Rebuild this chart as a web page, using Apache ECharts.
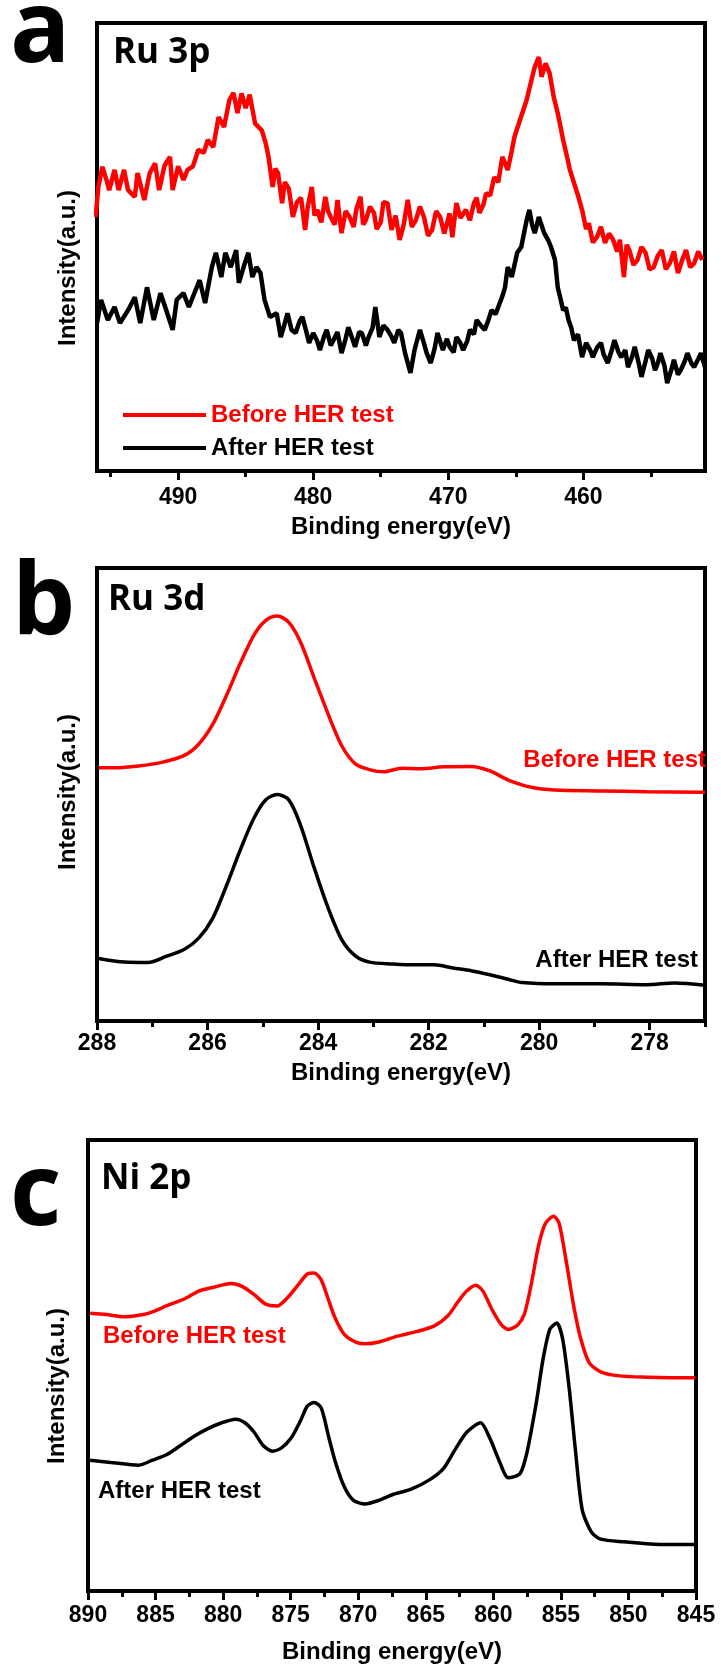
<!DOCTYPE html>
<html>
<head>
<meta charset="utf-8">
<script src="https://cdn.jsdelivr.net/npm/echarts@6/dist/echarts.min.js"></script>
<style>
  html, body { margin: 0; padding: 0; background: #fff; }
  #chart { width: 721px; height: 1668px; }
</style>
</head>
<body>
<div id="chart"></div>
<script>
// ---- data: [binding energy (eV), intensity (a.u., 0-100 of frame height)] ----
const ru3pBefore = [
  [496.1,56.7],[495.9,63.4],[495.6,67.9],[495.3,65],[495.1,62.7],[494.7,67.2],[494.4,62.7],[494,67.2],
  [493.7,62.7],[493.2,61.2],[493,66.5],[492.5,60.5],[492.1,66.5],[491.7,68.7],[491.4,62.7],[491,68.2],
  [490.6,70.1],[490.4,62.7],[490,68],[489.6,65],[489.3,67.2],[488.9,68],[488.5,71.7],[488.1,71],
  [487.8,73.9],[487.4,72.3],[487,79],[486.6,76.8],[486.2,82.8],[485.9,84.4],[485.6,79.9],[485.3,84.3],
  [485,81],[484.7,84],[484.3,77.6],[483.8,76],[483.5,73],[483.3,70],[483,63.4],[482.8,67.5],
  [482.6,66.5],[482.3,59.8],[482.1,64.5],[481.8,63],[481.5,56.7],[481.2,60],[480.9,61],[480.6,53.8],
  [480.4,59],[480.1,63.4],[479.9,57],[479.7,58.3],[479.4,55.5],[479.1,61.2],[478.9,58],[478.7,56.7],
  [478.4,55],[478.2,60.5],[477.9,53.1],[477.6,58],[477.3,56.7],[477,54.5],[476.8,58.5],[476.5,61.2],
  [476.3,55],[476.1,56],[475.8,59],[475.5,57.6],[475.3,54],[475,55.5],[474.8,60],[474.5,59.8],
  [474.2,53.8],[473.9,57],[473.6,51.6],[473.3,55],[473,60.5],[472.7,54.5],[472.4,56],[472.1,59],
  [471.8,56.7],[471.5,52.5],[471.2,53.8],[470.9,58],[470.6,56.7],[470.3,53],[470.1,55.3],[469.9,57.5],
  [469.7,52.2],[469.4,59.8],[469.1,56.5],[468.7,58.3],[468.4,56],[468.1,59.8],[467.9,61],[467.7,57.6],
  [467.4,59.5],[467.2,62],[466.9,61.5],[466.6,65.6],[466.3,64.5],[466,70.1],[465.6,67.2],[465.3,71.5],
  [465.1,74.6],[464.7,78.3],[464.2,82.8],[463.9,86.6],[463.6,90.2],[463.3,92.4],[463.1,88],[462.8,91],
  [462.5,88.8],[462.2,83.5],[461.9,79.9],[461.5,73.9],[461.2,70],[461,67.2],[460.6,63.4],[460.4,61.5],
  [460.1,58.3],[459.8,54],[459.6,55.3],[459.3,51],[459,52.2],[458.7,54.5],[458.4,50.9],[458.1,53],
  [457.8,51.6],[457.5,49],[457.3,51.6],[457,43.3],[456.8,50.5],[456.6,49.3],[456.3,46],[456,47.1],
  [455.7,50],[455.4,48.7],[455.1,45],[454.8,45.5],[454.5,48],[454.2,49.3],[453.9,45],[453.6,46.4],
  [453.3,49],[453,44.2],[452.7,47],[452.4,49.3],[452.1,45.5],[451.8,46.4],[451.5,49],[451.2,47.1]
];
const ru3pAfter = [
  [496,33],[495.7,38.2],[495.2,33.7],[494.7,36.6],[494.3,33],[493.7,35.9],[493.2,38.8],[492.8,33],
  [492.3,41],[491.8,33.7],[491.3,39.7],[490.8,35.2],[490.4,31.5],[490.1,38.2],[489.6,39.7],[489.2,36.6],
  [488.7,40.4],[488.4,42.6],[488,37.5],[487.5,45.5],[487.2,48.7],[486.8,43.3],[486.5,48.7],[486.1,45.5],
  [485.7,49.3],[485.5,42],[485.1,46],[484.8,48.7],[484.5,43.3],[484.2,45.5],[483.9,44.2],[483.6,38.2],
  [483.2,34.4],[482.7,35.2],[482.4,29.9],[482.1,33],[481.9,35.2],[481.6,31.5],[481.3,30.8],[481,33.5],
  [480.8,34.4],[480.5,31],[480.3,28.6],[480,30.8],[479.7,29],[479.5,27],[479.2,30],[479,31.5],
  [478.7,28],[478.5,29.2],[478.2,31],[477.9,26.3],[477.6,29.5],[477.4,32.1],[477.1,29.5],[476.9,27.7],
  [476.6,31],[476.4,30.8],[476.1,28],[475.9,29.9],[475.6,32],[475.4,36.6],[475.1,29.9],[474.8,32.5],
  [474.5,31.5],[474.2,30],[474,28.6],[473.7,31.5],[473.5,30.8],[473.2,26.3],[472.8,21.9],[472.5,27],
  [472.1,31.5],[471.8,28.5],[471.6,26.3],[471.3,24.1],[471,27.5],[470.8,30.8],[470.4,27],[470.1,29.5],
  [469.9,27.7],[469.6,26.5],[469.4,29.9],[469.1,28.5],[468.9,27],[468.6,29],[468.4,31.5],[468.1,30.5],
  [467.9,33.7],[467.6,32.5],[467.3,31.5],[467,34],[466.8,35.9],[466.5,35],[466.3,36.6],[466,39],
  [465.8,41],[465.6,45.5],[465.3,43.3],[464.9,48.7],[464.6,50],[464.2,56],[464,58.3],[463.8,55],
  [463.6,53.1],[463.3,56.7],[462.9,53.1],[462.6,51.5],[462.4,50],[462.1,47.1],[461.9,41],[461.7,38.5],
  [461.5,35.9],[461.3,36.5],[461.1,33.7],[460.9,32],[460.7,29.2],[460.4,30.5],[460.1,25.4],[459.8,28.6],
  [459.5,27],[459.3,25.4],[459,27.5],[458.7,28.6],[458.5,26],[458.2,24.1],[457.9,27],[457.7,29.2],
  [457.4,26.5],[457.2,25.4],[456.9,27],[456.7,23.2],[456.4,25.5],[456.2,27.7],[455.9,24],[455.7,21],
  [455.4,24.5],[455.2,27],[454.9,25],[454.7,22.5],[454.5,24],[454.3,26.3],[454,23.5],[453.8,19.6],
  [453.5,22.5],[453.3,24.8],[453,21.5],[452.8,22.5],[452.5,24.5],[452.3,26.3],[452,24],[451.8,23.2],
  [451.5,25],[451.3,26.3],[451,23.2]
];
const ru3dBefore = [
  [287.97,55.9],[287.67,55.9],[287.25,56.3],[286.83,57.1],[286.41,58.7],[286.16,61.1],[285.91,65.4],
  [285.66,71.8],[285.41,78.9],[285.16,85.2],[284.95,88.4],[284.74,89.4],[284.53,88],[284.32,83.7],
  [284.07,75.7],[283.82,67.8],[283.57,60.7],[283.32,56.7],[283.07,55.5],[282.82,55],[282.48,55.8],
  [282.15,55.7],[281.73,56.1],[281.23,56.2],[280.89,55.2],[280.56,53.2],[280.14,51.6],[279.72,51],
  [278.89,50.8],[278.05,50.6],[277,50.5]
];
const ru3dAfter = [
  [287.97,13.8],[287.5,13],[287.08,12.9],[286.74,14.3],[286.41,15.9],[286.16,18.3],[285.91,22.6],
  [285.66,29.8],[285.41,37.7],[285.16,44.8],[284.95,48.8],[284.74,50],[284.53,48.8],[284.32,43.3],
  [284.07,33.8],[283.82,25],[283.57,17.9],[283.32,14.3],[283.07,13],[282.65,12.6],[282.23,12.4],
  [281.9,12.4],[281.56,11.7],[281.23,11.1],[280.89,10.2],[280.56,9.2],[280.31,8.5],[279.72,8.2],
  [278.89,8.2],[278.05,8],[277.55,8.4],[277,7.9]
];
const ni2pBefore = [
  [889.84,61.6],[888.64,61.3],[887.28,60.8],[885.91,61.3],[885.23,61.9],[884.2,63.2],[882.84,64.8],
  [881.8,66.5],[880.78,67.3],[879.42,68.2],[878.56,67.5],[877.7,65.7],[876.85,63.6],[876,63.2],
  [875.31,64.8],[874.46,67.8],[873.77,70.3],[873.26,70.5],[872.74,69],[872.23,64.8],[871.72,60.6],
  [871.03,56.9],[870.18,55.2],[869.49,54.8],[868.47,55.2],[867.1,56.5],[865.73,57.5],[864.36,58.8],
  [863.34,61.1],[862.65,64],[861.97,66.5],[861.28,67.8],[860.77,66.5],[860.08,62.3],[859.4,59],
  [858.89,58],[858.2,59],[857.69,61.5],[857.18,68.2],[856.66,76.5],[856.15,81.5],[855.54,83.1],
  [855.13,81.5],[854.61,73.2],[854.1,64],[853.58,56.5],[852.9,50.6],[852.05,48.6],[850.68,47.7],
  [848.63,47.4],[846.92,47.3],[845.04,47.3]
];
const ni2pAfter = [
  [889.84,29],[888.3,28.5],[886.25,27.9],[885.23,29],[884.2,30.2],[883.18,32.2],[882.15,34.3],
  [881.12,36],[880.1,37.3],[879.07,38.1],[878.39,37.3],[877.7,35.2],[877.02,32.2],[876.34,31],
  [875.65,31.8],[874.97,33.9],[874.28,37.7],[873.77,41],[873.26,41.8],[872.74,40.6],[872.23,34.7],
  [871.72,28.9],[871.03,23.1],[870.35,20.1],[869.49,19.3],[868.47,20.1],[867.44,21.4],[866.07,22.6],
  [864.7,24.7],[863.68,27.2],[862.82,31.4],[861.97,35.2],[860.94,37.3],[860.26,33.9],[859.57,28.9],
  [858.89,25.1],[858.03,26],[857.52,30.6],[856.84,41.4],[856.32,51.4],[855.81,58.1],[855.3,59.4],
  [854.86,55.7],[854.38,44.8],[853.93,31.4],[853.42,18],[852.73,13],[852.05,11.5],[850.34,10.9],
  [848.63,10.5],[846.92,10.3],[845.04,10.3]
];

// tick positions (major = labelled, minor = short ticks)
const ticksA = [460, 470, 480, 490];
const minorA = [455, 465, 475, 485, 495];
const ticksB = [278, 280, 282, 284, 286, 288];
const minorB = [277, 279, 281, 283, 285, 287];
const ticksC = [845, 850, 855, 860, 865, 870, 875, 880, 885, 890];
const minorC = [847.5, 852.5, 857.5, 862.5, 867.5, 872.5, 877.5, 882.5, 887.5];

const RED = '#ff0000';
const BLACK = '#000000';
const ARIAL = '"Liberation Sans", Arial, sans-serif';
const TITLE_FONT = '"Open Sans", "Noto Sans", sans-serif';

const chart = echarts.init(document.getElementById('chart'));

// two overlaid bottom axes per grid: long labelled ticks + short minor ticks
function xAxes(gridIndex, min, max, majors, minors, labelMargin, nameGap) {
  const tickStyle = { color: BLACK, width: 3 };
  return [
    {
      type: 'value', gridIndex, min, max, inverse: true, position: 'bottom',
      axisLine: { show: false }, splitLine: { show: false },
      axisTick: { show: true, customValues: majors, length: 9, lineStyle: tickStyle },
      axisLabel: {
        customValues: majors, margin: labelMargin, color: BLACK,
        fontSize: 23, fontWeight: 'bold', fontFamily: ARIAL
      },
      name: 'Binding energy(eV)', nameLocation: 'middle', nameGap,
      nameTextStyle: { color: BLACK, fontSize: 24, fontWeight: 'bold', fontFamily: ARIAL }
    },
    {
      type: 'value', gridIndex, min, max, inverse: true, position: 'bottom',
      axisLine: { show: false }, splitLine: { show: false }, axisLabel: { show: false },
      axisTick: { show: true, customValues: minors, length: 6, lineStyle: tickStyle }
    }
  ];
}

function yAxis(gridIndex) {
  return {
    type: 'value', gridIndex, min: 0, max: 100,
    axisLine: { show: false }, axisTick: { show: false },
    axisLabel: { show: false }, splitLine: { show: false }
  };
}

function line(name, data, xi, yi, color, width, smooth) {
  return {
    name, type: 'line', data, xAxisIndex: xi, yAxisIndex: yi,
    showSymbol: false, smooth, color,
    lineStyle: { color, width }, z: 3
  };
}

function label(text, x, y, color, align, size, font) {
  return {
    type: 'text', x, y, z: 10,
    style: {
      text, fill: color, align, verticalAlign: 'middle',
      font: 'bold ' + size + 'px ' + (font || ARIAL)
    }
  };
}

function yName(x, y) {
  return {
    type: 'text', x, y, rotation: Math.PI / 2, z: 10,
    style: {
      text: 'Intensity(a.u.)', fill: BLACK, align: 'center', verticalAlign: 'middle',
      font: 'bold 24px ' + ARIAL
    }
  };
}

const frame = { show: true, borderColor: BLACK, borderWidth: 4, backgroundColor: 'transparent' };

const option = {
  animation: false,
  backgroundColor: '#fff',
  grid: [
    Object.assign({ left: 97, top: 23, width: 608, height: 448 }, frame),
    Object.assign({ left: 97, top: 568, width: 608, height: 453 }, frame),
    Object.assign({ left: 88, top: 1140, width: 608, height: 451 }, frame)
  ],
  xAxis: [].concat(
    xAxes(0, 451, 496, ticksA, minorA, 15, 44),
    xAxes(1, 277, 288, ticksB, minorB, 11, 40),
    xAxes(2, 845, 890, ticksC, minorC, 13, 49)
  ),
  yAxis: [yAxis(0), yAxis(1), yAxis(2)],
  legend: {
    orient: 'vertical', left: 118, top: 398,
    itemWidth: 83, itemHeight: 4, itemGap: 9, icon: 'rect', selectedMode: false,
    textStyle: { fontSize: 24, fontWeight: 'bold', fontFamily: ARIAL },
    data: [
      { name: 'Before HER test', textStyle: { color: RED } },
      { name: 'After HER test', textStyle: { color: BLACK } }
    ]
  },
  series: [
    line('Before HER test', ru3pBefore, 0, 0, RED, 4.5, false),
    line('After HER test', ru3pAfter, 0, 0, BLACK, 4.5, false),
    line('Ru 3d before', ru3dBefore, 2, 1, RED, 3.5, 0.3),
    line('Ru 3d after', ru3dAfter, 2, 1, BLACK, 3.5, 0.3),
    line('Ni 2p before', ni2pBefore, 4, 2, RED, 3.5, 0.25),
    line('Ni 2p after', ni2pAfter, 4, 2, BLACK, 3.5, 0.25)
  ],
  graphic: [
    label('a', 10, 34, BLACK, 'left', 100, TITLE_FONT),
    label('b', 12, 607, BLACK, 'left', 100, TITLE_FONT),
    label('c', 10, 1197, BLACK, 'left', 100, TITLE_FONT),
    label('Ru 3p', 113, 53, BLACK, 'left', 35, TITLE_FONT),
    label('Ru 3d', 108, 600, BLACK, 'left', 35, TITLE_FONT),
    label('Ni 2p', 101, 1179, BLACK, 'left', 35, TITLE_FONT),
    yName(68, 268),
    yName(68, 792),
    yName(57, 1386),
    label('Before HER test', 706, 760, RED, 'right', 24),
    label('After HER test', 698, 960, BLACK, 'right', 24),
    label('Before HER test', 103, 1336, RED, 'left', 24),
    label('After HER test', 98, 1491, BLACK, 'left', 24)
  ]
};

chart.setOption(option);
</script>
</body>
</html>
